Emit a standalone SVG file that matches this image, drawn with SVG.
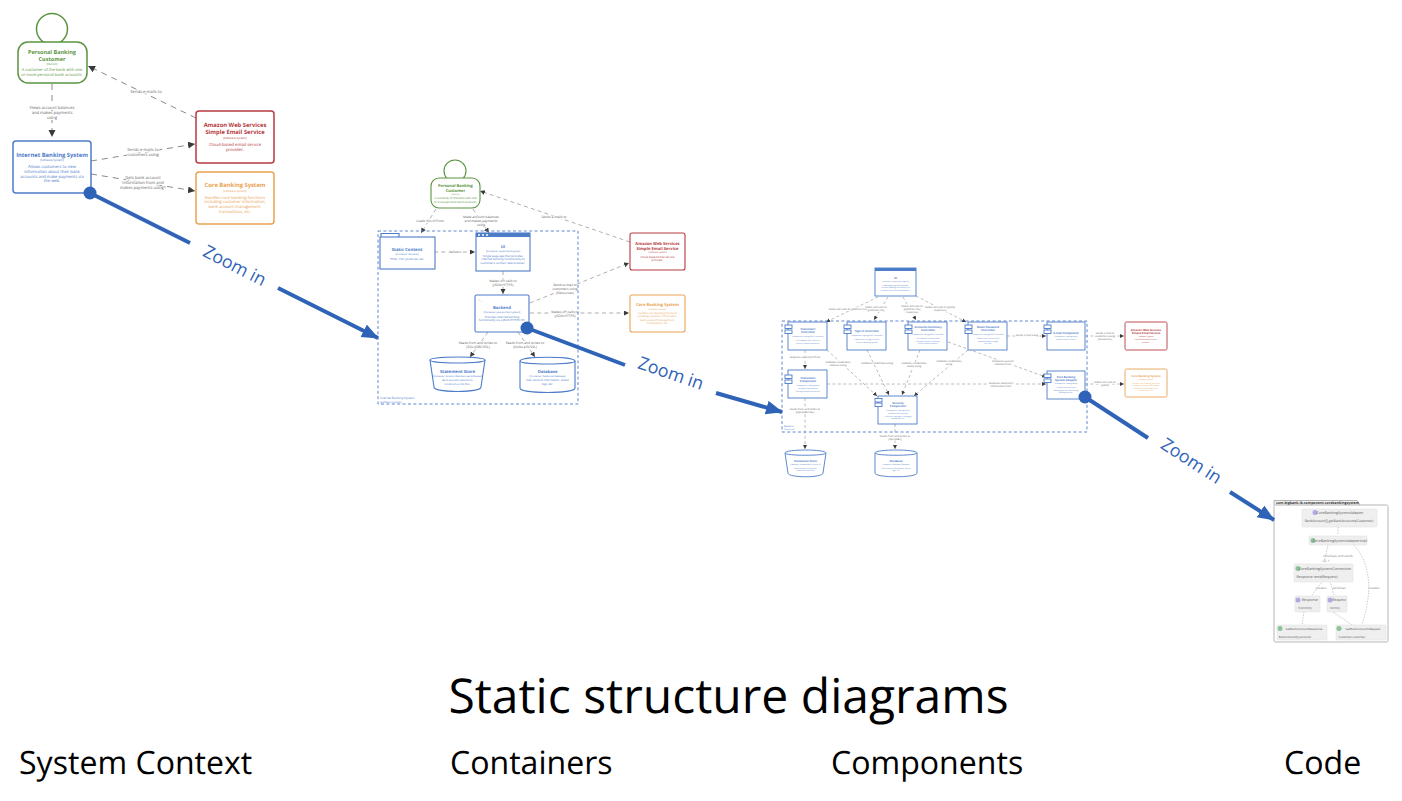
<svg xmlns="http://www.w3.org/2000/svg" width="1402" height="801" viewBox="0 0 1402 801">
<style>
text{font-family:"Open Sans","Noto Sans","Liberation Sans",sans-serif;text-anchor:middle;text-rendering:geometricPrecision}
.g{--c:#5a9440}.b{--c:#4d7cc9}.r{--c:#b83a42}.o{--c:#eaa354}
.s{fill:#fff;stroke:var(--c);stroke-width:1.5}
.s2{fill:#fff;stroke:var(--c);stroke-width:1.1}
.s3{fill:#fff;stroke:var(--c);stroke-width:.9}
.t{fill:var(--c);font-weight:700}
.d{fill:var(--c)}
.bd{fill:none;stroke:#4d7cc9;stroke-dasharray:3 2.4;stroke-width:.9}
.c1{fill:none;stroke:#8a8a8a;stroke-width:1;stroke-dasharray:6 5;marker-end:url(#a1)}
.c2{fill:none;stroke:#9a9a9a;stroke-width:.8;stroke-dasharray:4 3.2;marker-end:url(#a2)}
.c3{fill:none;stroke:#a0a0a0;stroke-width:.7;stroke-dasharray:3 2.4;marker-end:url(#a3)}
.l{fill:#666;paint-order:stroke;stroke:#fff;stroke-width:1.5}
.z{fill:none;stroke:#2f63b7;stroke-width:4}
.za{marker-end:url(#az)}
.zt{fill:#2f63b7;font-size:17.800px}
.dot{fill:#2f63b7}
.big{fill:#000;font-size:48px}
.cap{fill:#000;font-size:32.100px;text-anchor:start}
.cb{fill:#efefef;stroke:#dcdcdc;stroke-width:.5}
.ct{fill:#555;font-size:3.600px}
.cs{fill:#555;font-size:2.900px}
.cl{fill:#888;font-size:3.200px}
.cc{fill:none;stroke:#aaa;stroke-width:.6;stroke-dasharray:1.500 1.200}
</style>
<defs>
<marker id="a1" markerUnits="userSpaceOnUse" markerWidth="8" markerHeight="8" refX="7" refY="3.500" orient="auto"><path d="M0 0L7 3.500L0 7z" fill="#3a3a3a"/></marker>
<marker id="a2" markerUnits="userSpaceOnUse" markerWidth="6" markerHeight="6" refX="5" refY="2.500" orient="auto"><path d="M0 0L5 2.500L0 5z" fill="#3a3a3a"/></marker>
<marker id="a3" markerUnits="userSpaceOnUse" markerWidth="5" markerHeight="5" refX="4" refY="2" orient="auto"><path d="M0 0L4 2L0 4z" fill="#3a3a3a"/></marker>
<marker id="az" markerUnits="userSpaceOnUse" markerWidth="18" markerHeight="16" refX="16" refY="7" orient="auto"><path d="M0 0L17 7L0 14z" fill="#2f63b7"/></marker>
</defs>

<g id="connectors">
<path class="c1" d="M52 84V137"/>
<text class="l" font-size="4.100" x="52" y="108.500">Views account balances</text><text class="l" font-size="4.100" x="52" y="113.500">and makes payments</text><text class="l" font-size="4.100" x="52" y="118.500">using</text>
<path class="c1" d="M196 118L88 66"/>
<text class="l" font-size="4.100" x="146" y="93">Sends e-mails to</text>
<path class="c1" d="M91 161L195 144"/>
<text class="l" font-size="4.100" x="143" y="151">Sends e-mails to</text><text class="l" font-size="4.100" x="143" y="156">customers using</text>
<path class="c1" d="M91 174L195 191"/>
<text class="l" font-size="4.100" x="143" y="179">Gets bank account</text><text class="l" font-size="4.100" x="143" y="184">information from and</text><text class="l" font-size="4.100" x="143" y="189">makes payments using*</text>
<path class="c2" d="M436 209L421 233"/>
<text class="l" font-size="3.300" x="430" y="222">Loads SVs of from</text>
<path class="c2" d="M473 209L489 233"/>
<text class="l" font-size="3.300" x="481" y="218">Make account balances</text><text class="l" font-size="3.300" x="481" y="222">and makes payments</text><text class="l" font-size="3.300" x="481" y="226">using</text>
<path class="c2" d="M630 242L480 191"/>
<text class="l" font-size="3.300" x="554" y="218">Sends e-mails to</text>
<path class="c2" d="M434 252H475"/>
<text class="l" font-size="3.300" x="455" y="253">delivers</text>
<path class="c2" d="M503 271V294"/>
<text class="l" font-size="3.300" x="503" y="282">Makes API calls to</text><text class="l" font-size="3.300" x="503" y="286">[JSON/HTTPS]</text>
<path class="c2" d="M530 303L629 263"/>
<text class="l" font-size="3.300" x="565" y="286">Sends e-mail to</text><text class="l" font-size="3.300" x="565" y="290">customers using</text><text class="l" font-size="3.300" x="565" y="294">[Resources]</text>
<path class="c2" d="M530 313H629"/>
<text class="l" font-size="3.300" x="565" y="313">Makes API calls to</text><text class="l" font-size="3.300" x="565" y="317">[JSON/HTTPS]</text>
<path class="c2" d="M488 332L470 357"/>
<text class="l" font-size="3.300" x="478" y="344">Reads from and writes to</text><text class="l" font-size="3.300" x="478" y="348">[SQL/JDBC/SSL]</text>
<path class="c2" d="M518 332L535 357"/>
<text class="l" font-size="3.300" x="525" y="344">Reads from and writes to</text><text class="l" font-size="3.300" x="525" y="348">[blobs and SSL]</text>
<path class="c3" d="M878 297L826 322"/>
<text class="l" font-size="2.600" x="848" y="310">Makes API calls to [JSON/HTTPS]</text>
<path class="c3" d="M888 297L874 320"/>
<text class="l" font-size="2.600" x="876" y="308">Makes API calls to</text><text class="l" font-size="2.600" x="876" y="311">[JSON/HTTPS]</text>
<path class="c3" d="M903 297L916 320"/>
<text class="l" font-size="2.600" x="912" y="307">Makes API calls to</text><text class="l" font-size="2.600" x="912" y="310">[JSON/HTTPS]</text><text class="l" font-size="2.600" x="912" y="313">responses</text>
<path class="c3" d="M916 296L966 322"/>
<text class="l" font-size="2.600" x="940" y="308">Makes API calls to [JSON]</text><text class="l" font-size="2.600" x="940" y="311">responses</text>
<path class="c3" d="M805 350V369"/>
<text class="l" font-size="2.600" x="805" y="358">Requests statement from</text>
<path class="c3" d="M827 384H1046"/>
<text class="l" font-size="2.600" x="1001" y="384">Requests statement</text><text class="l" font-size="2.600" x="1001" y="387">information from</text>
<path class="c3" d="M827 350L877 396"/>
<text class="l" font-size="2.600" x="838" y="363">Validates credentials</text><text class="l" font-size="2.600" x="838" y="366">statuses using</text>
<path class="c3" d="M867 350L889 395"/>
<text class="l" font-size="2.600" x="877" y="364">Validates credentials using</text>
<path class="c3" d="M920 350L902 395"/>
<text class="l" font-size="2.600" x="914" y="364">Validates credentials</text><text class="l" font-size="2.600" x="914" y="367">status using</text>
<path class="c3" d="M968 350L914 396"/>
<text class="l" font-size="2.600" x="949" y="362">Validates credentials</text><text class="l" font-size="2.600" x="949" y="365">using</text>
<path class="c3" d="M948 342L1046 377"/>
<text class="l" font-size="2.600" x="1003" y="362">Requests account</text><text class="l" font-size="2.600" x="1003" y="365">statistics from</text>
<path class="c3" d="M1007 336H1046"/>
<text class="l" font-size="2.600" x="1027" y="336">Sends e-mail using</text>
<path class="c3" d="M1085 336H1124"/>
<text class="l" font-size="2.600" x="1105" y="334">Sends e-mail to</text><text class="l" font-size="2.600" x="1105" y="337">customers using</text><text class="l" font-size="2.600" x="1105" y="340">[Resources]</text>
<path class="c3" d="M1085 384H1124"/>
<text class="l" font-size="2.600" x="1105" y="383">Makes API calls to</text><text class="l" font-size="2.600" x="1105" y="386">[JSON]</text>
<path class="c3" d="M805 398V449"/>
<text class="l" font-size="2.600" x="805" y="410">Reads from and writes to</text><text class="l" font-size="2.600" x="805" y="413">[SQL/JDBC/SSL]</text>
<path class="c3" d="M895 424V449"/>
<text class="l" font-size="2.600" x="895" y="437">Reads from and writes to</text><text class="l" font-size="2.600" x="895" y="440">[SQL/JDBC]</text>
</g>

<g id="context-person"><g class="g">
<circle class="s" cx="52" cy="29" r="15.500"/><rect class="s" x="18" y="42" width="69" height="41" rx="10"/>
<text class="t" font-size="5.500" x="52" y="54">Personal Banking</text><text class="t" font-size="5.500" x="52" y="60.500">Customer</text>
<text class="d" font-size="2.800" x="52" y="65">[Person]</text>
<text class="d" font-size="4" x="52" y="71">A customer of the bank with one</text><text class="d" font-size="4" x="52" y="76">or more personal bank accounts.</text>
</g></g>
<g id="context-internet"><g class="b">
<rect class="s" x="13" y="141" width="78" height="52" rx="3"/>
<text class="t" font-size="5.800" x="52" y="157">Internet Banking System</text>
<text class="d" font-size="2.800" x="52" y="161">[Software System]</text>
<text class="d" font-size="4.100" x="52" y="168">Allows customers to view</text><text class="d" font-size="4.100" x="52" y="172.800">information about their bank</text><text class="d" font-size="4.100" x="52" y="177.600">accounts and make payments via</text><text class="d" font-size="4.100" x="52" y="182.400">the web.</text>
</g></g>
<g id="context-aws"><g class="r">
<rect class="s" x="196" y="111" width="78" height="52" rx="3"/>
<text class="t" font-size="5.800" x="235" y="127">Amazon Web Services</text><text class="t" font-size="5.800" x="235" y="134">Simple Email Service</text>
<text class="d" font-size="2.800" x="235" y="138.500">[Software System]</text>
<text class="d" font-size="4.300" x="235" y="146">Cloud-based email service</text><text class="d" font-size="4.300" x="235" y="151">provider.</text>
</g></g>
<g id="context-core"><g class="o">
<rect class="s" x="196" y="172" width="78" height="52" rx="3"/>
<text class="t" font-size="5.800" x="235" y="187">Core Banking System</text>
<text class="d" font-size="2.800" x="235" y="191.500">[Software System]</text>
<text class="d" font-size="4.100" x="235" y="198.500">Handles core-banking functions</text><text class="d" font-size="4.100" x="235" y="203.300">including customer information,</text><text class="d" font-size="4.100" x="235" y="208.100">bank account management,</text><text class="d" font-size="4.100" x="235" y="212.900">transactions, etc.</text>
</g></g>

<g id="containers-boundary"><rect class="bd" x="378" y="231" width="200" height="173"/>
<text x="380" y="399" font-size="3" fill="#4d7cc9" style="text-anchor:start">Internet Banking System</text><text x="380" y="403" font-size="2.600" fill="#4d7cc9" style="text-anchor:start">[Software System]</text></g>
<g id="containers-person"><g class="g">
<circle class="s2" cx="455" cy="171" r="11"/><rect class="s2" x="431" y="178" width="49" height="30" rx="8"/>
<text class="t" font-size="4" x="455.500" y="187">Personal Banking</text><text class="t" font-size="4" x="455.500" y="191.500">Customer</text>
<text class="d" font-size="2.200" x="455.500" y="195">[Person]</text>
<text class="d" font-size="2.800" x="455.500" y="199">A customer of the bank with one</text><text class="d" font-size="2.800" x="455.500" y="203">or more personal bank accounts.</text>
</g></g>
<g id="containers-static"><g class="b">
<path class="s2" d="M381 237V233.500H399V237"/><rect class="s2" x="380" y="237" width="55" height="32"/>
<text class="t" font-size="4.300" x="407" y="251">Static Content</text>
<text class="d" font-size="2.400" x="407" y="254.500">[Container: Browser]</text>
<text class="d" font-size="2.800" x="407" y="259.500">HTML, CSS, JavaScript, etc.</text>
</g></g>
<g id="containers-ui"><g class="b">
<rect class="s2" x="476" y="233" width="54" height="38"/><rect x="476" y="233" width="54" height="4" fill="#4d7cc9"/>
<circle cx="479" cy="235" r="1" fill="#fff"/><circle cx="483" cy="235" r="1" fill="#fff"/><circle cx="487" cy="235" r="1" fill="#fff"/>
<text class="t" font-size="4" x="503" y="248">UI</text>
<text class="d" font-size="2.400" x="503" y="252">[Container: Javascript/Angular]</text>
<text class="d" font-size="2.900" x="503" y="256.500">Single page app that provides</text><text class="d" font-size="2.900" x="503" y="260">Internet banking functionality to</text><text class="d" font-size="2.900" x="503" y="263.500">customers via their web browser.</text>
</g></g>
<g id="containers-backend"><g class="b">
<rect class="s2" x="475" y="295" width="54" height="37" rx="1.500"/>
<text class="d" font-size="3" x="480" y="301">&gt;_</text>
<text class="t" font-size="4.200" x="502" y="309">Backend</text>
<text class="d" font-size="2.400" x="502" y="313">[Container: Java and Spring Boot]</text>
<text class="d" font-size="2.900" x="502" y="317.500">Provides Internet banking</text><text class="d" font-size="2.900" x="502" y="321">functionality via a JSON/HTTPS API.</text>
</g></g>
<g id="containers-aws"><g class="r">
<rect class="s2" x="630" y="233" width="55" height="37" rx="2"/>
<text class="t" font-size="4.100" x="657.500" y="245">Amazon Web Services</text><text class="t" font-size="4.100" x="657.500" y="249.500">Simple Email Service</text>
<text class="d" font-size="2.200" x="657.500" y="253">[Software System]</text>
<text class="d" font-size="2.800" x="657.500" y="257.500">Cloud-based email service</text><text class="d" font-size="2.800" x="657.500" y="261">provider.</text>
</g></g>
<g id="containers-core"><g class="o">
<rect class="s2" x="630" y="295" width="55" height="37" rx="2"/>
<text class="t" font-size="4.100" x="657.500" y="306">Core Banking System</text>
<text class="d" font-size="2.200" x="657.500" y="309.500">[Software System]</text>
<text class="d" font-size="2.700" x="657.500" y="314">Handles core-banking functions</text><text class="d" font-size="2.700" x="657.500" y="317.300">including customer information,</text><text class="d" font-size="2.700" x="657.500" y="320.600">bank account management,</text><text class="d" font-size="2.700" x="657.500" y="323.900">transactions, etc.</text>
</g></g>
<g id="containers-statement"><g class="b">
<path class="s2" d="M430 360C430 356 485 356 485 360L481 387C481 393 434 393 434 387Z"/><path class="s2" d="M430 360C430 364 485 364 485 360" fill="none"/>
<text class="t" font-size="4.300" x="457.500" y="373">Statement Store</text>
<text class="d" font-size="2.400" x="457.500" y="376.500">[Container: Amazon Web Services S3 Bucket]</text>
<text class="d" font-size="2.600" x="457.500" y="381">Bank account statements</text><text class="d" font-size="2.600" x="457.500" y="384.500">rendered as PDF files.</text>
</g></g>
<g id="containers-database"><g class="b">
<path class="s2" d="M520 361C520 356 575 356 575 361V388C575 394 520 394 520 388Z"/><path class="s2" d="M520 361C520 365 575 365 575 361" fill="none"/>
<text class="t" font-size="4.200" x="547.500" y="373">Database</text>
<text class="d" font-size="2.400" x="547.500" y="376.500">[Container: Relational Database]</text>
<text class="d" font-size="2.800" x="547.500" y="381">User account information, access</text><text class="d" font-size="2.800" x="547.500" y="384.500">logs, etc.</text>
</g></g>

<g id="components-boundary"><rect class="bd" x="782" y="321" width="305" height="111"/>
<text x="784" y="427" font-size="2.400" fill="#4d7cc9" style="text-anchor:start">Backend</text><text x="784" y="430" font-size="2" fill="#4d7cc9" style="text-anchor:start">[Container]</text></g>
<g id="components-ui"><g class="b">
<rect class="s3" x="875" y="268" width="41" height="28"/><rect x="875" y="268" width="41" height="3" fill="#4d7cc9"/>
<text class="t" font-size="2.800" x="895.500" y="279">UI</text>
<text class="d" font-size="1.900" x="895.500" y="282">[Container: Javascript/Angular]</text>
<text class="d" font-size="1.900" x="895.500" y="285.500">Single page app that provides</text><text class="d" font-size="1.900" x="895.500" y="288">Internet banking functionality to</text><text class="d" font-size="1.900" x="895.500" y="290.500">customers via their web browser.</text>
</g></g>
<g id="components-statement-controller"><g class="b">
<rect class="s3" x="788" y="322" width="39" height="28"/><rect class="s3" x="785" y="325" width="7" height="3.500"/><rect class="s3" x="785" y="330" width="7" height="3.500"/>
<text class="t" font-size="2.800" x="808" y="330">Statement</text><text class="t" font-size="2.800" x="808" y="333">Controller</text>
<text class="d" font-size="1.900" x="808" y="336.500">[Component: Spring MVC Controller]</text>
<text class="d" font-size="1.900" x="808" y="341">API endpoint that relates to</text><text class="d" font-size="1.900" x="808" y="343.500">access to bank statements.</text>
</g></g>
<g id="components-signin"><g class="b">
<rect class="s3" x="847" y="322" width="39" height="28"/><rect class="s3" x="844" y="325" width="7" height="3.500"/><rect class="s3" x="844" y="330" width="7" height="3.500"/>
<text class="t" font-size="2.800" x="867" y="332">Sign In Controller</text>
<text class="d" font-size="1.900" x="867" y="335.500">[Component: Spring MVC Controller]</text>
<text class="d" font-size="1.900" x="867" y="340">Allows users to sign in to the</text><text class="d" font-size="1.900" x="867" y="342.500">Internet Banking System.</text>
</g></g>
<g id="components-accounts"><g class="b">
<rect class="s3" x="908" y="322" width="39" height="28"/><rect class="s3" x="905" y="325" width="7" height="3.500"/><rect class="s3" x="905" y="330" width="7" height="3.500"/>
<text class="t" font-size="2.800" x="928" y="328">Accounts Summary</text><text class="t" font-size="2.800" x="928" y="331">Controller</text>
<text class="d" font-size="1.900" x="928" y="334.500">[Component: Spring MVC Controller]</text>
<text class="d" font-size="1.900" x="928" y="339">API endpoint that provides</text><text class="d" font-size="1.900" x="928" y="341.500">customers with a summary</text><text class="d" font-size="1.900" x="928" y="344">of their bank accounts.</text>
</g></g>
<g id="components-reset"><g class="b">
<rect class="s3" x="968" y="322" width="39" height="28"/><rect class="s3" x="965" y="325" width="7" height="3.500"/><rect class="s3" x="965" y="330" width="7" height="3.500"/>
<text class="t" font-size="2.800" x="988" y="328">Reset Password</text><text class="t" font-size="2.800" x="988" y="331">Controller</text>
<text class="d" font-size="1.900" x="988" y="334.500">[Component: Spring MVC Controller]</text>
<text class="d" font-size="1.900" x="988" y="339">Allows users to reset their</text><text class="d" font-size="1.900" x="988" y="341.500">password with a single</text><text class="d" font-size="1.900" x="988" y="344">use URL.</text>
</g></g>
<g id="components-email"><g class="b">
<rect class="s3" x="1047" y="322" width="38" height="28"/><rect class="s3" x="1044" y="325" width="7" height="3.500"/><rect class="s3" x="1044" y="330" width="7" height="3.500"/>
<text class="t" font-size="2.800" x="1066" y="334">E-mail Component</text>
<text class="d" font-size="1.900" x="1066" y="337">[Component: Spring Bean]</text>
<text class="d" font-size="1.900" x="1066" y="340">Sends e-mails to users.</text>
</g></g>
<g id="components-adapter"><g class="b">
<rect class="s3" x="1047" y="371" width="38" height="28"/><rect class="s3" x="1044" y="374" width="7" height="3.500"/><rect class="s3" x="1044" y="379" width="7" height="3.500"/>
<text class="t" font-size="2.800" x="1066" y="378">Core Banking</text><text class="t" font-size="2.800" x="1066" y="381">System Adapter</text>
<text class="d" font-size="1.900" x="1066" y="384">[Component: Spring Bean]</text>
<text class="d" font-size="1.900" x="1066" y="388">A facade onto the core</text><text class="d" font-size="1.900" x="1066" y="390.500">banking system, abstracting</text><text class="d" font-size="1.900" x="1066" y="393">banking system.</text>
</g></g>
<g id="components-aws"><g class="r">
<rect class="s3" x="1125" y="322" width="42" height="28" rx="1.500"/>
<text class="t" font-size="2.800" x="1146" y="331">Amazon Web Services</text><text class="t" font-size="2.800" x="1146" y="334">Simple Email Service</text>
<text class="d" font-size="1.800" x="1146" y="337">[Software System]</text>
<text class="d" font-size="1.900" x="1146" y="340">Cloud-based email service</text><text class="d" font-size="1.900" x="1146" y="342.500">provider.</text>
</g></g>
<g id="components-core"><g class="o">
<rect class="s3" x="1125" y="369" width="42" height="28" rx="1.500"/>
<text class="t" font-size="2.800" x="1146" y="377">Core Banking System</text>
<text class="d" font-size="1.800" x="1146" y="380">[Software System]</text>
<text class="d" font-size="1.900" x="1146" y="383.500">Handles core-banking functions</text><text class="d" font-size="1.900" x="1146" y="386">including customer information,</text><text class="d" font-size="1.900" x="1146" y="388.500">bank account management,</text><text class="d" font-size="1.900" x="1146" y="391">transactions, etc.</text>
</g></g>
<g id="components-statement"><g class="b">
<rect class="s3" x="788" y="370" width="39" height="28"/><rect class="s3" x="785" y="375" width="7" height="3.500"/><rect class="s3" x="785" y="380" width="7" height="3.500"/>
<text class="t" font-size="2.800" x="808" y="379">Statement</text><text class="t" font-size="2.800" x="808" y="382">Component</text>
<text class="d" font-size="1.900" x="808" y="385.500">[Component: Spring Bean]</text>
<text class="d" font-size="1.900" x="808" y="389">Provides functionality</text><text class="d" font-size="1.900" x="808" y="391.500">relating to bank statements.</text>
</g></g>
<g id="components-security"><g class="b">
<rect class="s3" x="878" y="396" width="39" height="28"/><rect class="s3" x="875" y="398.500" width="7" height="3.500"/><rect class="s3" x="875" y="403" width="7" height="3.500"/>
<text class="t" font-size="2.800" x="898" y="404">Security</text><text class="t" font-size="2.800" x="898" y="407">Component</text>
<text class="d" font-size="1.900" x="898" y="410.500">[Component: Spring Bean]</text>
<text class="d" font-size="1.900" x="898" y="414">Provides functionality</text><text class="d" font-size="1.900" x="898" y="416.500">related to signing in, changing</text><text class="d" font-size="1.900" x="898" y="419">passwords, etc.</text>
</g></g>
<g id="components-store"><g class="b">
<path class="s3" d="M785 453C785 449 826 449 826 453L823 473C823 478 788 478 788 473Z"/><path class="s3" d="M785 453C785 456 826 456 826 453" fill="none"/>
<text class="t" font-size="2.800" x="805.500" y="462">Statement Store</text>
<text class="d" font-size="1.800" x="805.500" y="465">[Container: Amazon Web Services S3]</text>
<text class="d" font-size="1.900" x="805.500" y="468.500">Bank account statements</text><text class="d" font-size="1.900" x="805.500" y="471">rendered as PDF files.</text>
</g></g>
<g id="components-database"><g class="b">
<path class="s3" d="M875 453C875 449 917 449 917 453V473C917 478 875 478 875 473Z"/><path class="s3" d="M875 453C875 456 917 456 917 453" fill="none"/>
<text class="t" font-size="2.800" x="896" y="462">Database</text>
<text class="d" font-size="1.800" x="896" y="465">[Container: Relational Database]</text>
<text class="d" font-size="1.900" x="896" y="468.500">User account information, access</text><text class="d" font-size="1.900" x="896" y="471">logs, etc.</text>
</g></g>

<g id="code-diagram">
<path d="M1274 505V500.500H1357L1360 505" fill="#f2f2f2" stroke="#888" stroke-width=".6"/>
<rect x="1274" y="505" width="114" height="137" rx="1.500" fill="#fff" stroke="#b5b5b5" stroke-width="1"/>
<text x="1276" y="504" font-size="3.500" font-weight="700" fill="#333" style="text-anchor:start">com.bigbank.ib.component.corebankingsystem</text>
<path class="cc" d="M1338 527V535M1328 545L1324 563M1354 545C1372 565 1372 595 1362 624M1323 581L1312 595M1330 581L1334 595M1333 612L1352 625M1304 612L1302 625"/>
<rect class="cb" x="1302" y="509" width="75" height="18" rx="1"/><circle cx="1315" cy="512.500" r="2.500" fill="#b4a7e5"/>
<text class="ct" x="1340" y="514">CoreBankingSystemAdapter</text><text class="ct" x="1339" y="522" font-size="3.400" style="font-size:3.400px">BankAccount[] getBankAccounts(Customer)</text>
<rect class="cb" x="1309" y="536" width="58" height="9" rx="1"/><circle cx="1313" cy="540.500" r="2.500" fill="#8cc49a"/>
<text class="ct" x="1340" y="542">CoreBankingSystemAdapterImpl</text>
<text class="cl" x="1338" y="557">initialises and sends</text>
<text class="cl" x="1323" y="562">1</text><text class="cl" x="1327" y="562">0..1</text>
<rect class="cb" x="1294" y="564" width="59" height="18" rx="1"/><circle cx="1298" cy="568.500" r="2.500" fill="#8cc49a"/>
<text class="ct" x="1325" y="570">CoreBankingSystemConnection</text><text class="ct" x="1317" y="578">Response send(Request)</text>
<text class="cl" x="1321" y="589">creates</text><text class="cl" x="1339" y="589">serialises</text><text class="cl" x="1374" y="589">creates</text>
<rect class="cb" x="1295" y="596" width="25" height="16" rx="1"/><circle cx="1298" cy="600" r="2.500" fill="#b4a7e5"/>
<text class="ct" x="1310" y="601">Response</text><text class="cs" x="1305" y="609">fromXml()</text>
<rect class="cb" x="1327" y="596" width="20" height="16" rx="1"/><circle cx="1330" cy="600" r="2.500" fill="#b4a7e5"/>
<text class="ct" x="1339" y="601">Request</text><text class="cs" x="1335" y="609">toXml()</text>
<rect class="cb" x="1277" y="625" width="50" height="15" rx="1"/><circle cx="1280" cy="628.500" r="2.500" fill="#8cc49a"/>
<text class="cs" x="1304" y="630">GetBankAccountsResponse</text><text class="cs" x="1295" y="637.500">BankAccount[] accounts</text>
<rect class="cb" x="1336" y="625" width="50" height="15" rx="1"/><circle cx="1339" cy="628.500" r="2.500" fill="#8cc49a"/>
<text class="cs" x="1363" y="630">GetBankAccountsRequest</text><text class="cs" x="1352" y="637.500">Customer customer</text>
</g>

<g id="zoom-arrows">
<path class="z" d="M90 193L190 243"/><path class="z za" d="M278 288L378 338"/><circle class="dot" cx="90" cy="193" r="6.500"/>
<text class="zt" transform="translate(232 271) rotate(27)">Zoom in</text>
<path class="z" d="M527 328L625 365"/><path class="z za" d="M716 393L782 412"/><circle class="dot" cx="527" cy="328" r="6.500"/>
<text class="zt" transform="translate(669 379) rotate(19)">Zoom in</text>
<path class="z" d="M1085 397L1148 438"/><path class="z za" d="M1230 492L1274 520"/><circle class="dot" cx="1085" cy="397" r="6.500"/>
<text class="zt" transform="translate(1188 466) rotate(33)">Zoom in</text>
</g>

<g id="captions">
<text class="big" x="728.500" y="713">Static structure diagrams</text>
<text class="cap" x="19" y="774">System Context</text>
<text class="cap" x="450" y="774">Containers</text>
<text class="cap" x="831" y="774">Components</text>
<text class="cap" x="1284" y="774">Code</text>
</g>
</svg>
